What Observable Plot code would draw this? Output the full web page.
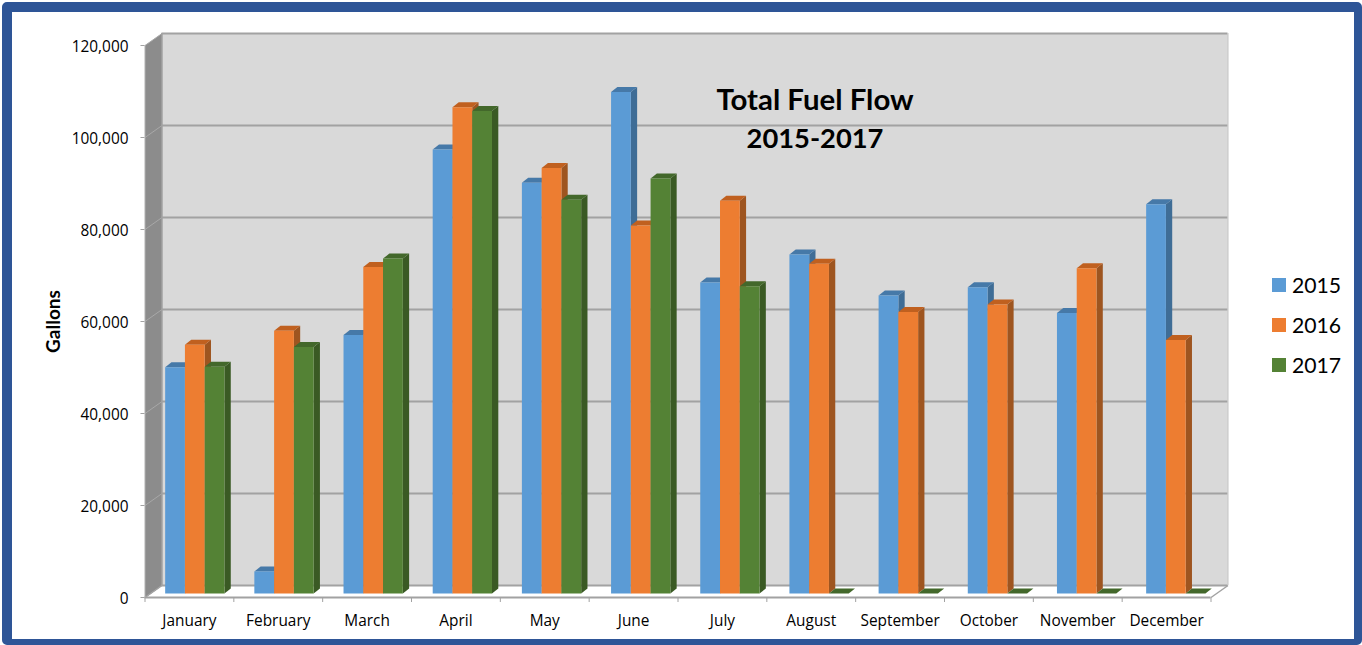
<!DOCTYPE html>
<html><head><meta charset="utf-8">
<script src="https://cdn.jsdelivr.net/npm/d3@7"></script>
<script src="https://cdn.jsdelivr.net/npm/@observablehq/plot@0.6"></script>
<style>
html,body{margin:0;padding:0;background:#fff;overflow:hidden}
#page{position:relative;width:1362px;height:645px;overflow:hidden}
#frame{position:absolute;left:2px;top:2px;right:0;bottom:0;border:solid #2e5597;border-width:10px 8px 6px 10px;border-radius:5px;box-sizing:border-box}
#chart{position:absolute;left:0;top:0}
#title{position:absolute;left:640px;width:350px;top:80px;text-align:center;font:bold 29.4px/38px Lato,sans-serif;color:#000}
#title span{font-size:27.3px}
#legend{position:absolute;left:1272px;top:265px;font:21.2px/40px Lato,sans-serif;color:#000}
#legend div{display:flex;align-items:center;height:40px}
#legend i{display:block;width:14px;height:14px;margin-right:6px}
</style></head><body>
<div id="page"><div id="frame"></div><div id="chart"></div>
<div id="title">Total Fuel Flow<br><span>2015-2017</span></div><div id="legend"></div></div>
<script>
const months = ["January","February","March","April","May","June","July","August","September","October","November","December"];
const years = ["2015","2016","2017"];
const v2015 = [49200,4800,56200,96500,89300,109000,67600,73700,64800,66600,61000,84600];
const v2016 = [54100,57100,71000,105700,92500,80000,85400,71700,61200,62800,70700,55100];
const v2017 = [49300,53600,72800,104900,85600,90200,66800,0,0,0,0,0];
const series = [v2015,v2016,v2017];
const front = ["#5b9bd5","#ed7d31","#548235"];
const topFace = ["#4679a8","#c0601f","#43682b"];
const side = ["#3f6d96","#9e5520","#3a5a24"];
const yTicks = [0,20000,40000,60000,80000,100000,120000];

// depth of the chart box and of each bar, in scale units
const wallX = 17/88.83, wallY = 12/0.0046;
const barDX = 6.3/88.83, barDY = 5/0.0046;
const barLift = 4/0.0046, barStart = 0.227, barStep = 1.0039, barW = 0.2225;

const faces = [];
let id = 0;
const poly = (fill, pts) => { id++; for (const [x,y] of pts) faces.push({id,fill,x,y}); };
months.forEach((m,i) => series.forEach((s,j) => {
  const v = s[i], x0 = barStart + barStep*i + barW*j, x1 = x0 + barW, b = barLift, t = barLift + v;
  poly(side[j], [[x1,b],[x1+barDX,b+barDY],[x1+barDX,t+barDY],[x1,t]]);
  poly(topFace[j], [[x0,t],[x1,t],[x1+barDX,t+barDY],[x0+barDX,t+barDY]]);
  if (v>0) poly(front[j], [[x0,b],[x1,b],[x1,t],[x0,t]]);
}));

const walls = [];
const wall = (fill, pts) => pts.forEach(([x,y]) => walls.push({fill,x,y}));
wall("#d9d9d9", [[wallX,wallY],[12+wallX,wallY],[12+wallX,120000+wallY],[wallX,120000+wallY]]);
wall("#8c8c8c", [[0,0],[wallX,wallY],[wallX,120000+wallY],[0,120000]]);

const grid = "#a2a2a2";
const tickLen = 5/0.0046;
const plot = Plot.plot({
  width:1362, height:645, marginLeft:145, marginRight:151, marginTop:45, marginBottom:48,
  style:{background:"transparent",fontFamily:"'Open Sans',sans-serif",fontSize:"15.4px",color:"#000"},
  x:{type:"linear",domain:[0,12],range:[144.5,1210.5]},
  y:{type:"linear",domain:[0,120000],range:[597,45]},
  marks:[
    Plot.line(walls,{x:"x",y:"y",z:"fill",fill:"fill",stroke:"none"}),
    Plot.link(yTicks,{x1:0,y1:d=>d,x2:wallX,y2:d=>d+wallY,stroke:"#a8a8a8",strokeWidth:1}),
    Plot.ruleY(yTicks,{y:d=>d+wallY,x1:wallX,x2:12+wallX,stroke:grid,strokeWidth:2}),
    Plot.ruleX([wallX],{y1:wallY,y2:120000+wallY,stroke:grid,strokeWidth:1.5}),
    Plot.ruleX([12+wallX],{y1:wallY,y2:120000+wallY,stroke:"#c4c4c4",strokeWidth:1}),
    Plot.link([0,12],{x1:d=>d,y1:0,x2:d=>d+wallX,y2:wallY,stroke:grid,strokeWidth:1.5}),
    Plot.ruleY([0],{x1:0,x2:12,stroke:grid,strokeWidth:2}),
    Plot.ruleX([0],{y1:0,y2:120000,stroke:"#b0b0b0",strokeWidth:1}),
    Plot.line(faces,{x:"x",y:"y",z:"id",fill:"fill",stroke:"none"}),
    Plot.ruleY(yTicks,{x1:-4/88.83,x2:0,stroke:grid,strokeWidth:1}),
    Plot.axisY({ticks:yTicks,tickFormat:d3.format(","),tickSize:0,tickPadding:17,dy:1.5,label:null,fill:"#000"}),
    Plot.axisY({ticks:[],label:"Gallons",labelAnchor:"center",labelArrow:"none",labelOffset:99,fontWeight:"bold",fontFamily:"Lato,sans-serif",fontSize:19,fill:"#000"}),
    Plot.ruleX(d3.range(13),{x:d=>d,y1:0,y2:-tickLen,stroke:grid,strokeWidth:1}),
    Plot.axisX({ticks:months.map((m,i)=>i+0.5),tickFormat:d=>months[d-0.5],tickSize:0,tickPadding:18,label:null,fill:"#000"})
  ]
});
document.getElementById("chart").append(plot);
const lg = document.getElementById("legend");
years.forEach((y,j)=>{const r=document.createElement("div");const s=document.createElement("i");s.style.background=front[j];r.append(s,document.createTextNode(y));lg.append(r);});
</script></body></html>
